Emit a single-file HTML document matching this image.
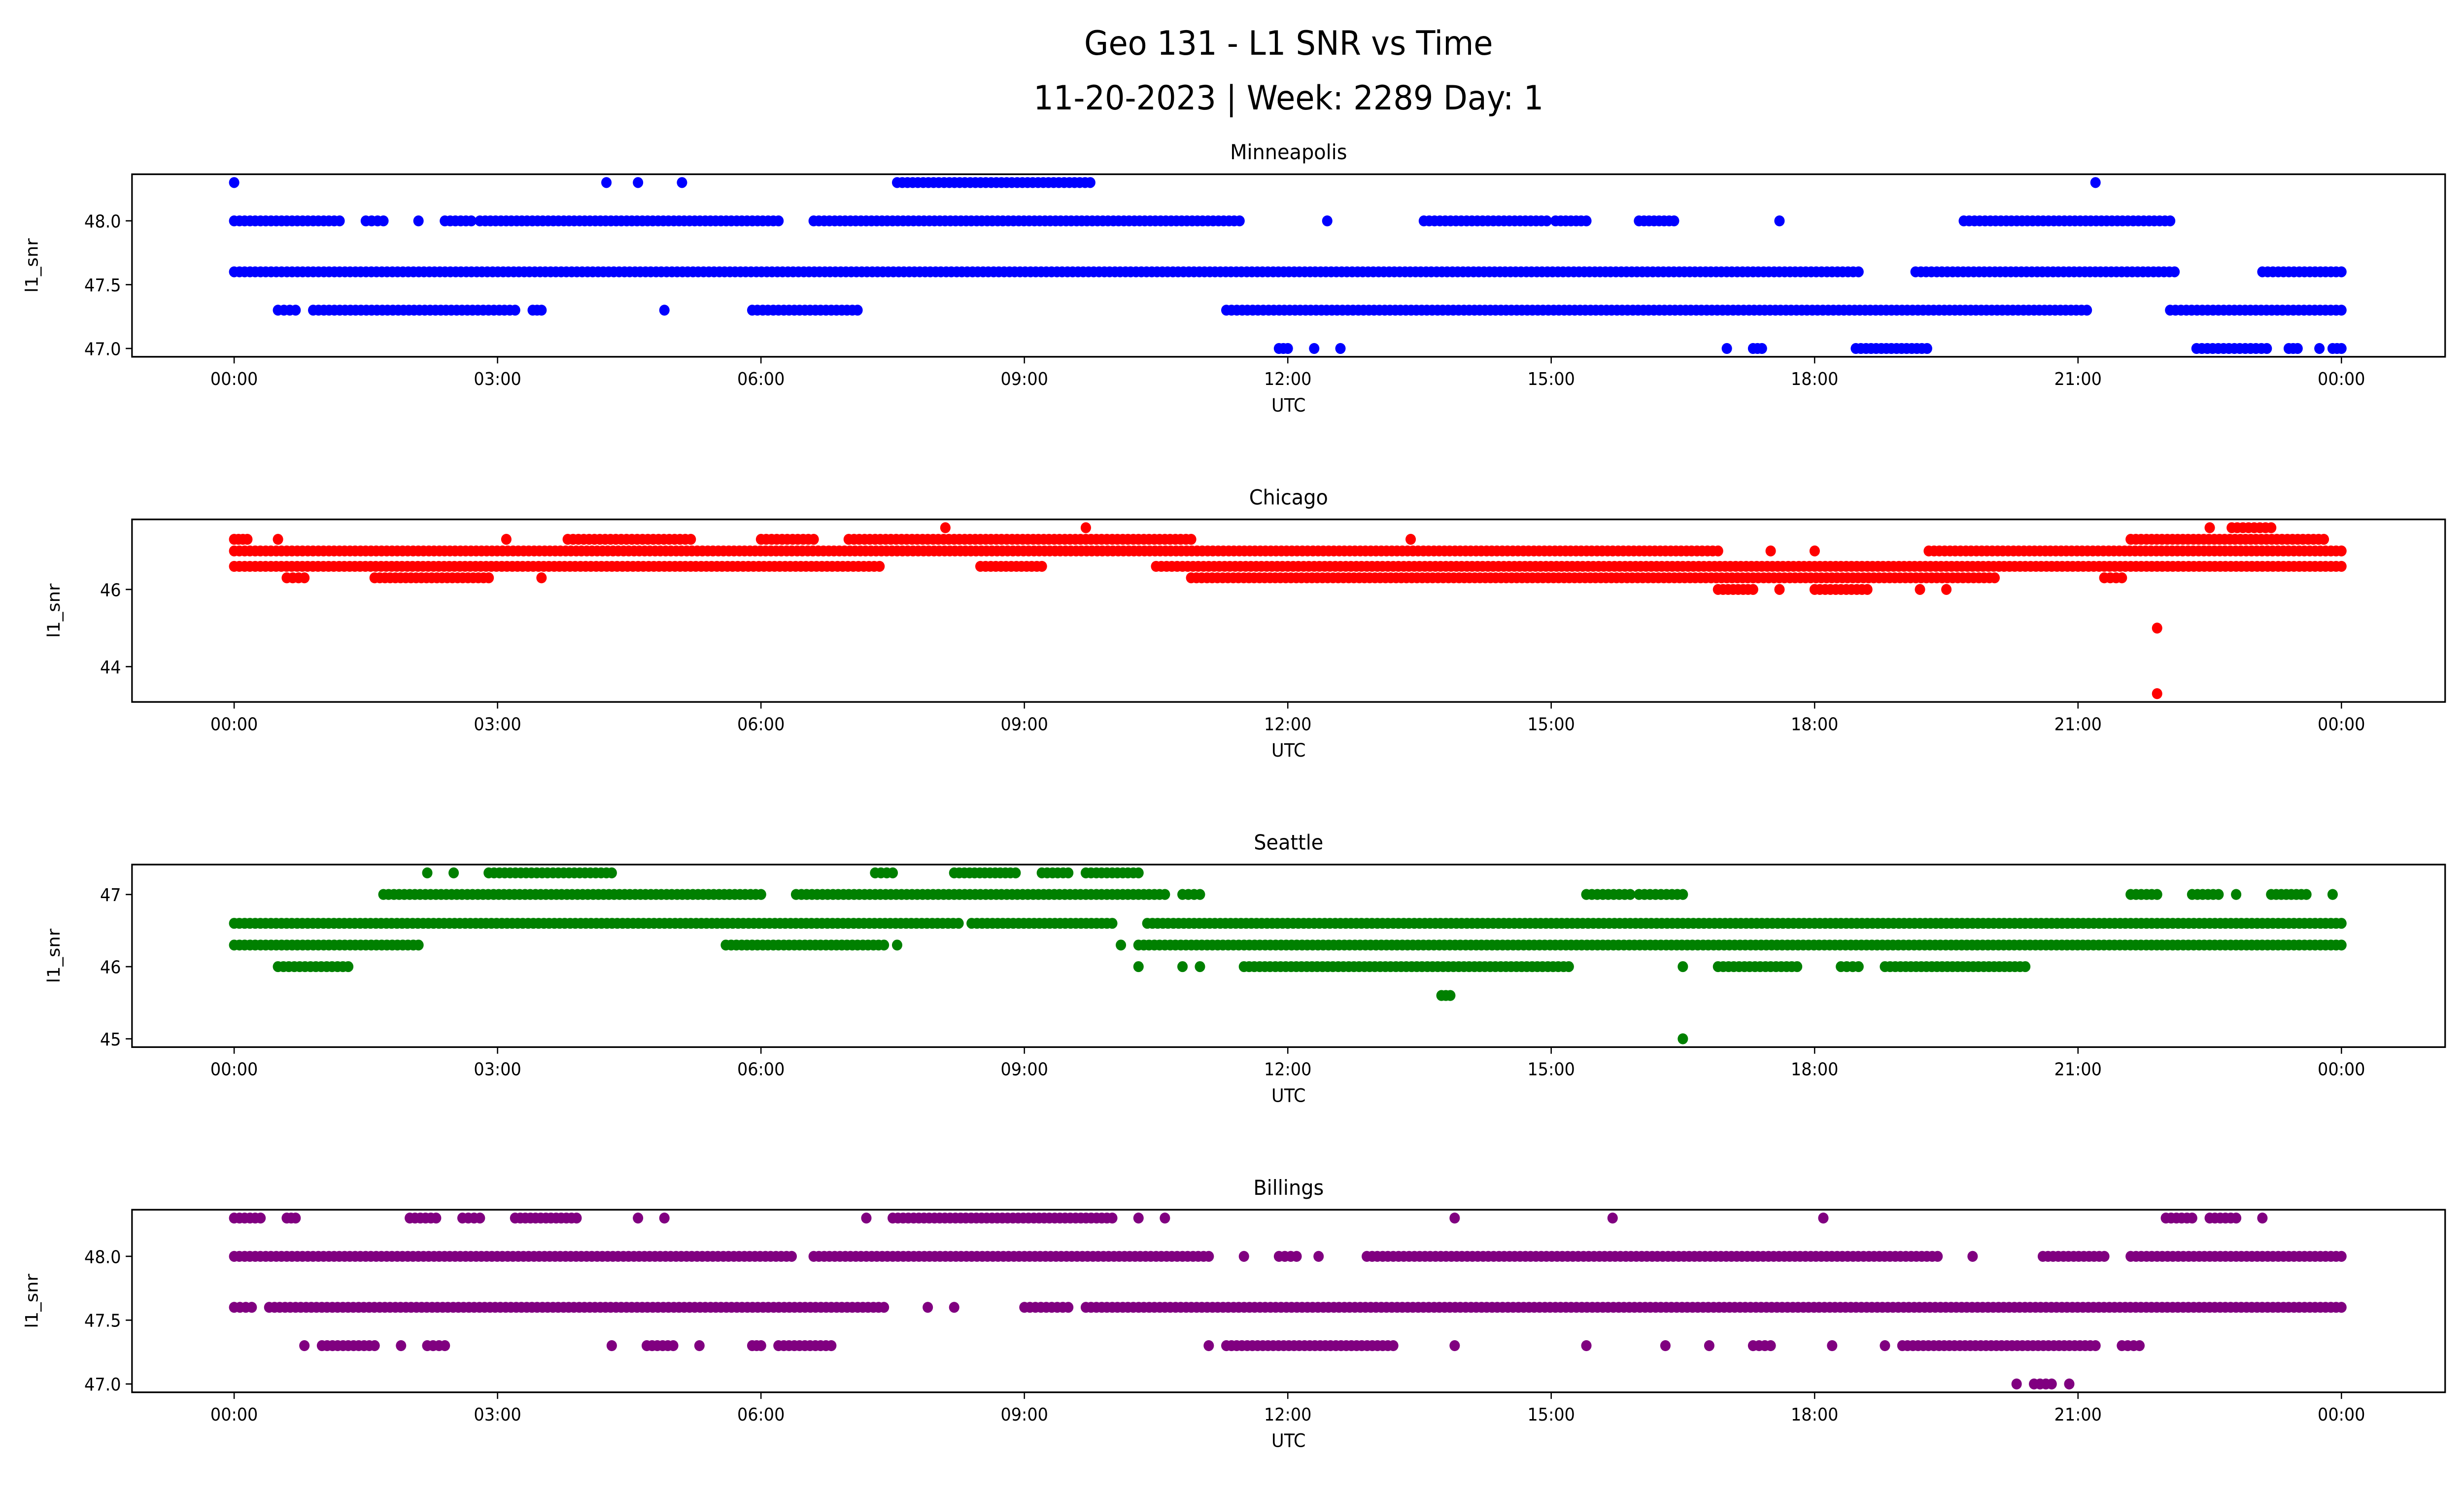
<!DOCTYPE html>
<html><head><meta charset="utf-8"><style>
html,body{margin:0;padding:0;background:#fff;width:100%;height:100%;overflow:hidden}
svg{display:block;position:fixed;left:0;top:0;width:100vw;height:100vh}
text{font-family:"DejaVu Sans","Liberation Sans",sans-serif;fill:#000}
</style></head><body>
<svg id="chart" viewBox="0 0 1568 900.9" preserveAspectRatio="none" xmlns="http://www.w3.org/2000/svg">
<rect width="1568" height="901" fill="#fff"/>
<text x="820" y="33" font-size="20" text-anchor="middle">Geo 131 - L1 SNR vs Time</text>
<text x="820" y="66" font-size="20" text-anchor="middle">11-20-2023 | Week: 2289 Day: 1</text>
<g id="plots"></g>
</svg>
<script>
// Data: [level, [[startHour,endHour], ...]] runs per station
const minneapolisRuns = [
 [48.3, [[0,0],[4.24,4.24],[4.6,4.6],[5.1,5.1],[7.55,9.75],[21.2,21.2]]],
 [48.0, [[0,1.2],[1.5,1.7],[2.1,2.1],[2.4,2.7],[2.8,6.2],[6.6,11.45],[12.45,12.45],[13.55,14.95],[15.05,15.4],[16.0,16.4],[17.6,17.6],[19.7,22.05]]],
 [47.6, [[0,18.5],[19.15,22.1],[23.1,24]]],
 [47.3, [[0.5,0.7],[0.9,3.2],[3.4,3.5],[4.9,4.9],[5.9,7.1],[11.3,21.1],[22.05,24]]],
 [47.0, [[11.9,12.0],[12.3,12.3],[12.6,12.6],[17.0,17.0],[17.3,17.4],[18.47,19.28],[22.35,23.15],[23.4,23.5],[23.75,23.75],[23.9,24]]]
];
const chicagoRuns = [
 [47.6, [[8.1,8.1],[9.7,9.7],[22.5,22.5],[22.75,23.2]]],
 [47.3, [[0,0.15],[0.5,0.5],[3.1,3.1],[3.8,5.2],[6.0,6.6],[7.0,10.9],[13.4,13.4],[21.6,23.8]]],
 [47.0, [[0,16.9],[17.5,17.5],[18.0,18.0],[19.3,24]]],
 [46.6, [[0,7.35],[8.5,9.2],[10.5,24]]],
 [46.3, [[0.6,0.8],[1.6,2.9],[3.5,3.5],[10.9,20.05],[21.3,21.5]]],
 [46.0, [[16.9,17.3],[17.6,17.6],[18.0,18.6],[19.2,19.2],[19.5,19.5]]],
 [45.0, [[21.9,21.9]]],
 [43.3, [[21.9,21.9]]]
];
const seattleRuns = [
 [47.3, [[2.2,2.2],[2.5,2.5],[2.9,4.3],[7.3,7.5],[8.2,8.9],[9.2,9.5],[9.7,10.3]]],
 [47.0, [[1.7,6.0],[6.4,10.6],[10.8,11.0],[15.4,15.9],[16.0,16.5],[21.6,21.9],[22.3,22.6],[22.8,22.8],[23.2,23.6],[23.9,23.9]]],
 [46.6, [[0,8.25],[8.4,10.0],[10.4,12.0],[12.0,24]]],
 [46.3, [[0,2.1],[5.6,7.4],[7.55,7.55],[10.1,10.1],[10.3,24]]],
 [46.0, [[0.5,1.3],[10.3,10.3],[10.8,10.8],[11.0,11.0],[11.5,15.2],[16.5,16.5],[16.9,17.8],[18.3,18.5],[18.8,20.4]]],
 [45.6, [[13.75,13.85]]],
 [45.0, [[16.5,16.5]]]
];
const billingsRuns = [
 [48.3, [[0,0.3],[0.6,0.7],[2.0,2.3],[2.6,2.8],[3.2,3.9],[4.6,4.6],[4.9,4.9],[7.2,7.2],[7.5,10.0],[10.3,10.3],[10.6,10.6],[13.9,13.9],[15.7,15.7],[18.1,18.1],[22.0,22.3],[22.5,22.8],[23.1,23.1]]],
 [48.0, [[0,6.35],[6.6,11.1],[11.5,11.5],[11.9,12.1],[12.35,12.35],[12.9,19.4],[19.8,19.8],[20.6,21.3],[21.6,24]]],
 [47.6, [[0,0.2],[0.4,7.4],[7.9,7.9],[8.2,8.2],[9.0,9.5],[9.7,24]]],
 [47.3, [[0.8,0.8],[1.0,1.6],[1.9,1.9],[2.2,2.4],[4.3,4.3],[4.7,5.0],[5.3,5.3],[5.9,6.0],[6.2,6.8],[11.1,11.1],[11.3,13.2],[13.9,13.9],[15.4,15.4],[16.3,16.3],[16.8,16.8],[17.3,17.5],[18.2,18.2],[18.8,18.8],[19.0,21.2],[21.5,21.7]]],
 [47.0, [[20.3,20.3],[20.5,20.7],[20.9,20.9]]]
];
const xTickLabels = ["00:00","03:00","06:00","09:00","12:00","15:00","18:00","21:00","00:00"];
const xTickHours = [0,3,6,9,12,15,18,21,24];
const plotDefs = [
 {name:"minneapolis", title:"Minneapolis", color:"#0000ff", runs:minneapolisRuns, dmin:47.0, dmax:48.3, ticks:[47.0,47.5,48.0], dec:1, top:105},
 {name:"chicago", title:"Chicago", color:"#ff0000", runs:chicagoRuns, dmin:43.3, dmax:47.6, ticks:[44,46], dec:0, top:313},
 {name:"seattle", title:"Seattle", color:"#008000", runs:seattleRuns, dmin:45.0, dmax:47.3, ticks:[45,46,47], dec:0, top:521},
 {name:"billings", title:"Billings", color:"#800080", runs:billingsRuns, dmin:47.0, dmax:48.3, ticks:[47.0,47.5,48.0], dec:1, top:729}
];
const NS="http://www.w3.org/2000/svg";
const L=84, R=1556, H=110, X0=149, X24=1490;
const root=document.getElementById('plots');
function mk(tag, attrs, parent){const e=document.createElementNS(NS,tag);for(const k in attrs)e.setAttribute(k,attrs[k]);parent.appendChild(e);return e;}
const xScale=h=>X0+(X24-X0)*h/24;
plotDefs.forEach(p=>{
 const g=mk('g',{},root);
 
 
 const span=p.dmax-p.dmin, lo=p.dmin-0.05*span, hi=p.dmax+0.05*span;
 const yScale=v=>p.top+H-(v-lo)/(hi-lo)*H;
 const t=mk('text',{x:820,y:p.top-9,'font-size':12.5,'text-anchor':'middle'},g);
 t.textContent=p.title;
 
 
 const pts=mk('g',{fill:p.color},g);
 
 
 p.runs.forEach(([lvl,runs])=>{
  const y=yScale(lvl);
  runs.forEach(([a,b])=>{
   const n=Math.max(1,Math.round((b-a)/0.06));
   for(let i=0;i<=n;i++){
    const h=a+(b-a)*i/n;
    const c=mk('circle',{cx:xScale(h).toFixed(1),cy:y.toFixed(1),r:3.3},pts);
    
    
    if(b===a)break;
   }
  });
 });
 const frame=mk('rect',{x:L,y:p.top,width:R-L,height:H,fill:'none',stroke:'#000','stroke-width':1},g);
 
 
 xTickHours.forEach((h,i)=>{
  const x=xScale(h);
  mk('line',{x1:x,x2:x,y1:p.top+H,y2:p.top+H+4,stroke:'#000','stroke-width':0.8},g);
  const tl=mk('text',{x:x,y:p.top+H+17,'font-size':10.5,'text-anchor':'middle'},g);
  tl.textContent=xTickLabels[i];
  
  
 });
 p.ticks.forEach(v=>{
  const y=yScale(v);
  mk('line',{x1:L-4,x2:L,y1:y,y2:y,stroke:'#000','stroke-width':0.8},g);
  const tl=mk('text',{x:L-7,y:y+4,'font-size':10.5,'text-anchor':'end'},g);
  tl.textContent=v.toFixed(p.dec);
  
  
 });
 const xl=mk('text',{x:820,y:p.top+H+33,'font-size':11,'text-anchor':'middle'},g);
 xl.textContent='UTC';
 
 
 const yl=mk('text',{x:0,y:0,'font-size':11,'text-anchor':'middle',transform:`translate(${p.dec?24:38},${p.top+H/2}) rotate(-90)`},g);
 yl.textContent='l1_snr';
 
 
});
</script>
</body></html>
